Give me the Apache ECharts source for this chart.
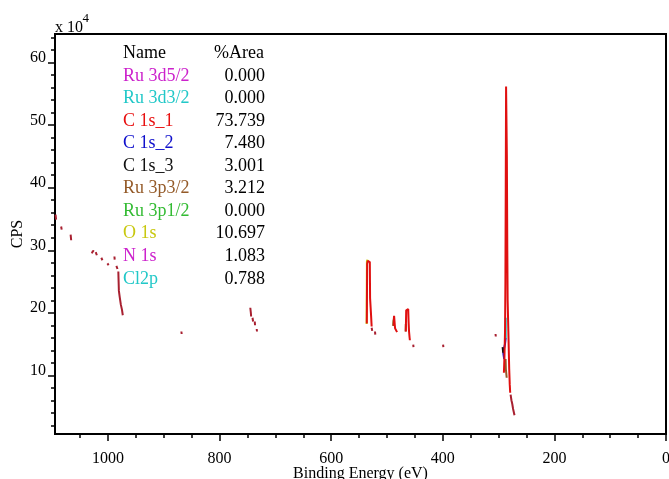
<!DOCTYPE html>
<html>
<head>
<meta charset="utf-8">
<script src="https://cdn.jsdelivr.net/npm/echarts@6/dist/echarts.min.js"></script>
<style>
  html, body { margin: 0; padding: 0; background: #fff; }
  #chart { width: 669px; height: 479px; }
</style>
</head>
<body>
<div id="chart"></div>
<script>
// XPS survey: binding energy (eV) vs CPS (x 10^4)
const FONT = '"Liberation Serif", "Times New Roman", serif';

// ── peak table ──────────────────────────────────────────────
const componentNames = ['Ru 3d5/2', 'Ru 3d3/2', 'C 1s_1', 'C 1s_2', 'C 1s_3', 'Ru 3p3/2', 'Ru 3p1/2', 'O 1s', 'N 1s', 'Cl2p'];
const componentAreas = ['0.000', '0.000', '73.739', '7.480', '3.001', '3.212', '0.000', '10.697', '1.083', '0.788'];
const componentColors = ['#cc22cc', '#22c8c8', '#e81010', '#1010cc', '#111111', '#945a28', '#33bb33', '#c8c810', '#cc22cc', '#22c8c8'];

// ── axis ticks ──────────────────────────────────────────────
const xMajorTicks = [0, 200, 400, 600, 800, 1000];
const xMinorTicks = [50, 100, 150, 250, 300, 350, 450, 500, 550, 650, 700, 750, 850, 900, 950, 1050];
const yMajorTicks = [10, 20, 30, 40, 50, 60];
const yMinorTicks = [2, 4, 6, 8, 12, 14, 16, 18, 22, 24, 26, 28, 32, 34, 36, 38, 42, 44, 46, 48, 52, 54, 56, 58, 62, 64];

// ── spectrum pieces [eV, CPS/1e4] ───────────────────────────
const backgroundSegments = [
  [[1094, 35.7], [1093, 34.9]],
  [[1084, 33.8], [1083, 33.3]],
  [[1067, 32.5], [1066, 31.6]],
  [[1029, 29.5], [1027, 29.9], [1025, 29.8]],
  [[1022, 29.7], [1020, 29.2]],
  [[1012, 28.8], [1010, 28.4]],
  [[1001, 27.9], [999, 27.6]],
  [[988.5, 29.0], [988, 28.5]],
  [[985, 27.5], [983, 27.0]],
  [[981.5, 26.6], [981, 25.0], [980.5, 23.5], [979, 22.5], [977, 21.3], [975, 20.5], [973.5, 19.6]],
  [[868.5, 17.0], [868, 16.6]],
  [[745, 20.8], [744, 20.0], [743.5, 19.4]],
  [[741, 19.2], [740, 18.6]],
  [[737, 18.6], [736.5, 18.0]],
  [[733.5, 17.4], [733, 17.0]],
  [[527.5, 17.6], [526.5, 17.1]],
  [[521.5, 17.0], [521, 16.5]],
  [[453, 14.9], [452.5, 14.5]],
  [[399.5, 14.9], [399, 14.5]],
  [[305.5, 16.6], [305, 16.2]],
  [[278.5, 6.9], [277, 6.0], [275.5, 5.4], [274, 4.6], [272.5, 4.0], [271.5, 3.6]]
];

const envelopeSegments = [
  [[536.2, 18.3], [536, 20.8], [535.6, 27.8], [534.5, 28.3], [532, 28.3], [530.8, 28.1], [530.3, 22.3], [528.5, 19.5], [527.5, 17.8]],
  [[488.5, 17.9], [488, 18.8], [487.3, 19.5], [486.5, 19.3], [486, 18.0], [485.5, 17.5], [484, 17.2], [482, 16.9]],
  [[466.3, 17.0], [466, 18.5], [465.6, 20.4], [464.5, 20.7], [462, 20.6], [461.3, 18.5], [460.5, 17.0], [459.5, 16.0], [459, 15.6]],
  [[290.5, 10.4], [289.5, 13], [288.5, 17], [287.8, 25], [287.2, 40], [286.6, 56.2], [285.9, 56.0], [285.2, 45], [284.4, 30], [283.8, 22], [282.5, 17], [281, 11], [280, 8.5], [279.2, 7.2]]
];

const oxygenSegments = [[[536.6, 18.2], [536.4, 21], [536.0, 28.2], [535.2, 28.5]]];
const ru3p12Segments = [[[488.9, 17.9], [488.2, 18.7], [487.6, 18.9]]];
const ru3p32Segments = [[[466.6, 17.0], [466.3, 18.2]], [[287.5, 12.6], [287, 11.0], [285.5, 9.6]]];
const c1s2Segments = [[[287.4, 15.9], [288.5, 15.0], [290.5, 14.2], [291.5, 13.5], [290, 12.6]]];
const c1s3Segments = [[[292.8, 14.5], [291.8, 13.6], [290.5, 14.0]]];
const ru3d32Segments = [[[287.2, 19.2], [287.2, 15.8]]];

// join segments with gaps so the line breaks between them
function joinSegments(segments) {
  const out = [];
  segments.forEach((seg, i) => {
    if (i > 0) out.push('-');
    seg.forEach(p => out.push(p));
  });
  return out;
}

function lineSeries(name, segments, color, width) {
  return {
    name,
    type: 'line',
    xAxisIndex: 0,
    yAxisIndex: 0,
    data: joinSegments(segments),
    showSymbol: false,
    symbol: 'none',
    connectNulls: false,
    lineStyle: { color, width },
    z: 3
  };
}

// table as graphic texts
const ROW0 = 53.3, ROW_STEP = 22.55;
const tableTexts = [
  { type: 'text', style: { text: 'Name', x: 123, y: ROW0, font: '18px ' + FONT, fill: '#000', verticalAlign: 'middle' } },
  { type: 'text', style: { text: '%Area', x: 264, y: ROW0, font: '18px ' + FONT, fill: '#000', align: 'right', verticalAlign: 'middle' } }
];
componentNames.forEach((n, i) => {
  const y = ROW0 + ROW_STEP * (i + 1);
  tableTexts.push({ type: 'text', style: { text: n, x: 123, y, font: '18px ' + FONT, fill: componentColors[i], verticalAlign: 'middle' } });
  tableTexts.push({ type: 'text', style: { text: componentAreas[i], x: 265, y, font: '18px ' + FONT, fill: '#000', align: 'right', verticalAlign: 'middle' } });
});

const chart = echarts.init(document.getElementById('chart'));

const GRID_RECT = { left: 55, right: 3, top: 34, bottom: 45, outerBoundsMode: 'none', containLabel: false };
const xBase = {
  type: 'value', inverse: true, min: 0, max: 1095, position: 'bottom',
  splitLine: { show: false },
  nameMoveOverlap: false,
  axisLine: { onZero: false, lineStyle: { color: '#000', width: 2 } }
};
const yBase = {
  type: 'value', min: 0.6, max: 64.6, position: 'left',
  splitLine: { show: false },
  nameMoveOverlap: false,
  axisLine: { onZero: false, lineStyle: { color: '#000', width: 2 } }
};

chart.setOption({
  animation: false,
  backgroundColor: '#fff',
  textStyle: { fontFamily: FONT },
  grid: [
    Object.assign({ show: true, borderColor: '#000', borderWidth: 2, backgroundColor: 'transparent' }, GRID_RECT),
    Object.assign({ show: false }, GRID_RECT)
  ],
  graphic: [
    { type: 'text', style: { text: 'x 10', x: 55, y: 20, font: '16px ' + FONT, fill: '#000', verticalAlign: 'top' } },
    { type: 'text', style: { text: '4', x: 82.5, y: 12.5, font: '13px ' + FONT, fill: '#000', verticalAlign: 'top' } },
    ...tableTexts
  ],
  xAxis: [
    Object.assign({}, xBase, {
      gridIndex: 0,
      name: 'Binding Energy (eV)', nameLocation: 'middle', nameGap: 32,
      nameTextStyle: { fontSize: 16, fontFamily: FONT, color: '#000' },
      axisTick: { show: true, inside: false, length: 7, lineStyle: { color: '#000', width: 1.5 }, customValues: xMajorTicks },
      axisLabel: { show: true, fontSize: 16, fontFamily: FONT, color: '#000', margin: 17, customValues: xMajorTicks, formatter: v => String(v) }
    }),
    Object.assign({}, xBase, {
      gridIndex: 1,
      axisTick: { show: true, inside: false, length: 4, lineStyle: { color: '#000', width: 1.5 }, customValues: xMinorTicks },
      axisLabel: { show: false }
    })
  ],
  yAxis: [
    Object.assign({}, yBase, {
      gridIndex: 0,
      name: 'CPS', nameLocation: 'middle', nameGap: 29.5,
      nameTextStyle: { fontSize: 16, fontFamily: FONT, color: '#000' },
      axisTick: { show: true, inside: false, length: 7, lineStyle: { color: '#000', width: 1.5 }, customValues: yMajorTicks },
      axisLabel: {
        show: true, fontSize: 16, fontFamily: FONT, color: '#000', margin: 9,
        verticalAlign: 'bottom', lineHeight: 9,
        customValues: yMajorTicks, formatter: v => String(v)
      }
    }),
    Object.assign({}, yBase, {
      gridIndex: 1,
      axisTick: { show: true, inside: false, length: 4, lineStyle: { color: '#000', width: 1.5 }, customValues: yMinorTicks },
      axisLabel: { show: false }
    })
  ],
  series: [
    lineSeries('O 1s', oxygenSegments, componentColors[7], 2),
    lineSeries('Ru 3p1/2', ru3p12Segments, componentColors[6], 2),
    lineSeries('Ru 3p3/2', ru3p32Segments, componentColors[5], 2),
    lineSeries('Ru 3d3/2', ru3d32Segments, componentColors[1], 2),
    lineSeries('C 1s_2', c1s2Segments, componentColors[3], 2),
    lineSeries('C 1s_3', c1s3Segments, componentColors[4], 2),
    lineSeries('Envelope', envelopeSegments, '#e01010', 2),
    lineSeries('Background', backgroundSegments, '#a82030', 2)
  ]
});
</script>
</body>
</html>
